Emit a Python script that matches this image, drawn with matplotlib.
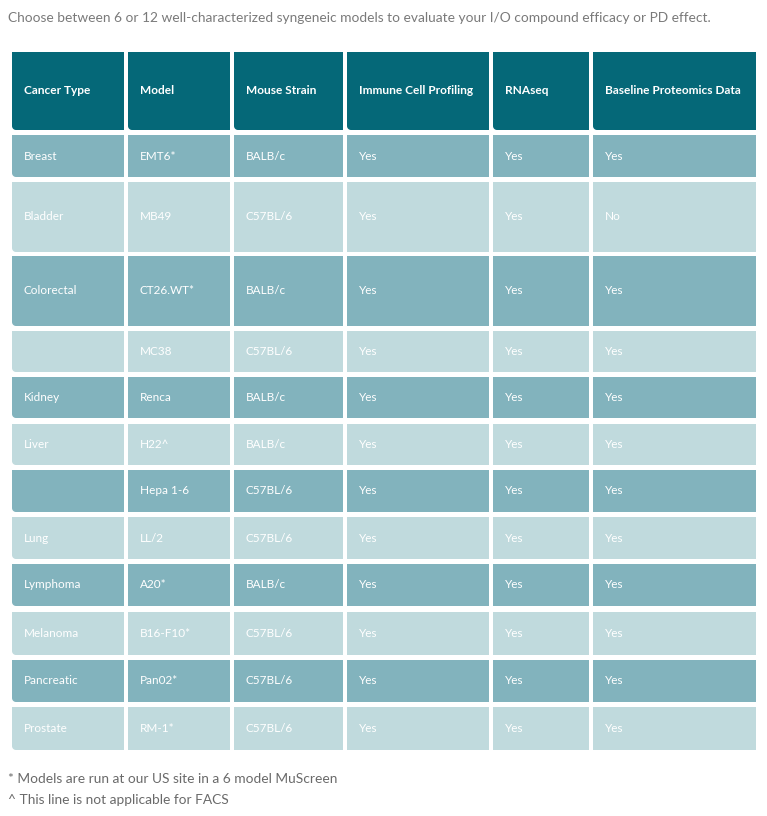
import matplotlib.pyplot as plt
from matplotlib.patches import PathPatch
from matplotlib.path import Path
import numpy as np

plt.rcParams["font.family"] = ["Lato", "DejaVu Sans"]

# table content
headers = ["Cancer Type", "Model", "Mouse Strain", "Immune Cell Profiling",
           "RNAseq", "Baseline Proteomics Data"]
cancer_types = ["Breast", "Bladder", "Colorectal", "", "Kidney", "Liver", "",
                "Lung", "Lymphoma", "Melanoma", "Pancreatic", "Prostate"]
models = ["EMT6*", "MB49", "CT26.WT*", "MC38", "Renca", "H22^", "Hepa 1-6",
          "LL/2", "A20*", "B16-F10*", "Pan02*", "RM-1*"]
strains = ["BALB/c", "C57BL/6", "BALB/c", "C57BL/6", "BALB/c", "BALB/c",
           "C57BL/6", "C57BL/6", "BALB/c", "C57BL/6", "C57BL/6", "C57BL/6"]
immune = ["Yes"] * 12
rnaseq = ["Yes"] * 12
proteomics = ["Yes", "No", "Yes", "Yes", "Yes", "Yes", "Yes", "Yes", "Yes",
              "Yes", "Yes", "Yes"]
intro = ("Choose between 6 or 12 well-characterized syngeneic models to "
         "evaluate your I/O compound efficacy or PD effect.")
notes = ["* Models are run at our US site in a 6 model MuScreen",
         "^ This line is not applicable for FACS"]

# layout in pixels
col_edges = [(12, 124), (128, 230), (234, 343), (347, 489), (493, 589), (593, 756)]
header_box = (52, 130)
row_boxes = [(135, 177), (182, 252), (256, 326), (331, 372), (377, 418),
             (424, 465), (470, 512), (517, 559), (564, 606), (612, 655),
             (660, 702), (707, 750)]

HEADER = "#056878"
DARK = "#82b3bd"
LIGHT = "#c0dadd"


def cell(ax, x0, x1, y0, y1, color, radius=0):
    # rectangle, optionally with a rounded bottom-left corner (y grows downwards)
    verts = [(x0, y0), (x1, y0), (x1, y1)]
    if radius:
        cx, cy = x0 + radius, y1 - radius
        verts += [(cx - radius * np.sin(a), cy + radius * np.cos(a))
                  for a in np.linspace(0, np.pi / 2, 8)]
    else:
        verts += [(x0, y1)]
    verts += [(x0, y0)]
    ax.add_patch(PathPatch(Path(verts), facecolor=color, edgecolor="none"))


fig = plt.figure(figsize=(7.67, 8.16), dpi=100)
ax = fig.add_axes([0, 0, 1, 1])
ax.set_xlim(0, 767)
ax.set_ylim(816, 0)
ax.axis("off")

ax.text(8, 18, intro, fontsize=9.95, color="#7a7a7a", va="center", ha="left")

for (x0, x1), label in zip(col_edges, headers):
    cell(ax, x0, x1, header_box[0], header_box[1], HEADER, radius=4)
    ax.text(x0 + 12, sum(header_box) / 2, label, fontsize=8.6,
            fontweight="bold", color="white", va="center", ha="left")

columns = [cancer_types, models, strains, immune, rnaseq, proteomics]
for i, (y0, y1) in enumerate(row_boxes):
    color = DARK if i % 2 == 0 else LIGHT
    for j, (x0, x1) in enumerate(col_edges):
        cell(ax, x0, x1, y0, y1, color, radius=4 if j == 0 else 0)
        ax.text(x0 + 12, (y0 + y1) / 2, columns[j][i], fontsize=8.5,
                color="white", va="center", ha="left")

ax.text(8, 779, notes[0], fontsize=9.9, color="#6a6a6a", va="center", ha="left")
ax.text(8, 800, notes[1], fontsize=9.9, color="#6a6a6a", va="center", ha="left")

fig.savefig("out.png", dpi=100)
